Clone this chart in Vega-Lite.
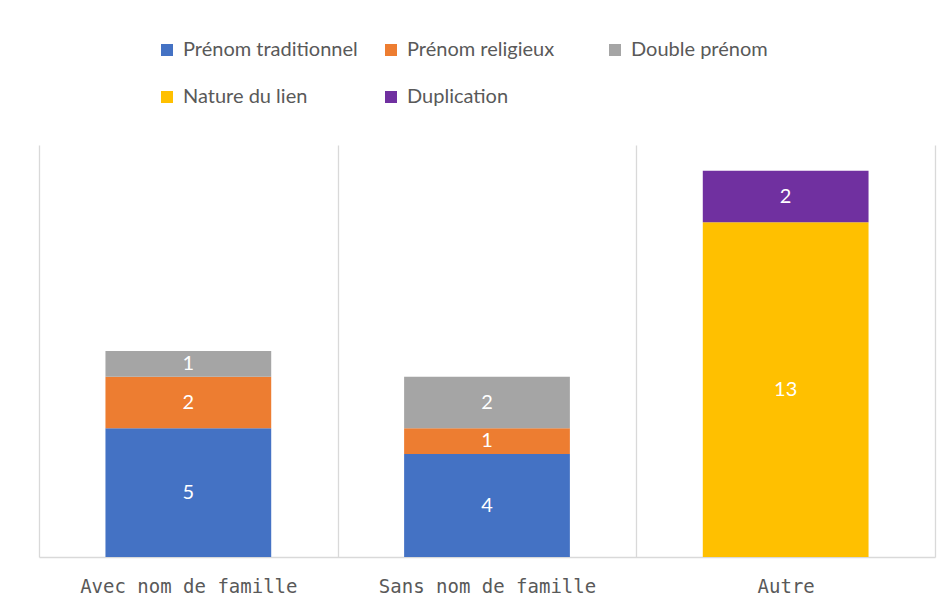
{
  "$schema": "https://vega.github.io/schema/vega-lite/v6.json",
  "width": 896,
  "height": 412,
  "padding": {"left": 39, "top": 40, "right": 15, "bottom": 5},
  "background": "white",
  "config": {"view": {"stroke": null}},
  "data": {"values": [
    {"categorie": "Avec nom de famille", "type": "Prénom traditionnel", "rang": 1, "valeur": 5},
    {"categorie": "Avec nom de famille", "type": "Prénom religieux", "rang": 2, "valeur": 2},
    {"categorie": "Avec nom de famille", "type": "Double prénom", "rang": 3, "valeur": 1},
    {"categorie": "Sans nom de famille", "type": "Prénom traditionnel", "rang": 1, "valeur": 4},
    {"categorie": "Sans nom de famille", "type": "Prénom religieux", "rang": 2, "valeur": 1},
    {"categorie": "Sans nom de famille", "type": "Double prénom", "rang": 3, "valeur": 2},
    {"categorie": "Autre", "type": "Nature du lien", "rang": 4, "valeur": 13},
    {"categorie": "Autre", "type": "Duplication", "rang": 5, "valeur": 2}
  ]},
  "encoding": {
    "x": {
      "field": "categorie", "type": "nominal",
      "sort": ["Avec nom de famille", "Sans nom de famille", "Autre"],
      "scale": {"paddingInner": 0, "paddingOuter": 0},
      "axis": {
        "title": null, "labelAngle": 0, "grid": true, "tickBand": "extent",
        "gridColor": "#d9d9d9", "gridWidth": 1.3, "domainColor": "#d9d9d9", "domainWidth": 1.5,
        "ticks": false, "labelFont": "DejaVu Sans Mono", "labelFontSize": 19, "labelLimit": 400,
        "labelColor": "#595959", "labelPadding": 20
      }
    },
    "y": {"field": "valeur", "type": "quantitative", "stack": "zero", "scale": {"domain": [0, 16]}, "axis": null},
    "order": {"field": "rang", "type": "quantitative", "sort": "ascending"}
  },
  "layer": [
    {
      "mark": {"type": "bar", "width": {"band": 0.555}},
      "encoding": {
        "color": {
          "field": "type", "type": "nominal",
          "scale": {
            "domain": ["Prénom traditionnel", "Prénom religieux", "Double prénom", "Nature du lien", "Duplication"],
            "range": ["#4472C4", "#ED7D31", "#A5A5A5", "#FFC000", "#7030A0"]
          },
          "legend": {
            "title": null, "orient": "none", "direction": "horizontal", "legendX": 118, "legendY": -105,
            "columns": 3, "gridAlign": "all", "columnPadding": 23, "rowPadding": 27,
            "padding": 0, "symbolType": "square", "symbolSize": 144, "symbolStrokeWidth": 0,
            "labelFont": "Lato", "labelFontSize": 20, "labelColor": "#595959", "labelOffset": 6,
            "labelLimit": 400
          }
        }
      }
    },
    {
      "mark": {"type": "text", "color": "white", "font": "Lato", "fontSize": 20},
      "encoding": {
        "y": {"field": "valeur", "type": "quantitative", "stack": "zero", "bandPosition": 0.5},
        "detail": {"field": "type"},
        "text": {"field": "valeur", "type": "quantitative"}
      }
    }
  ]
}
